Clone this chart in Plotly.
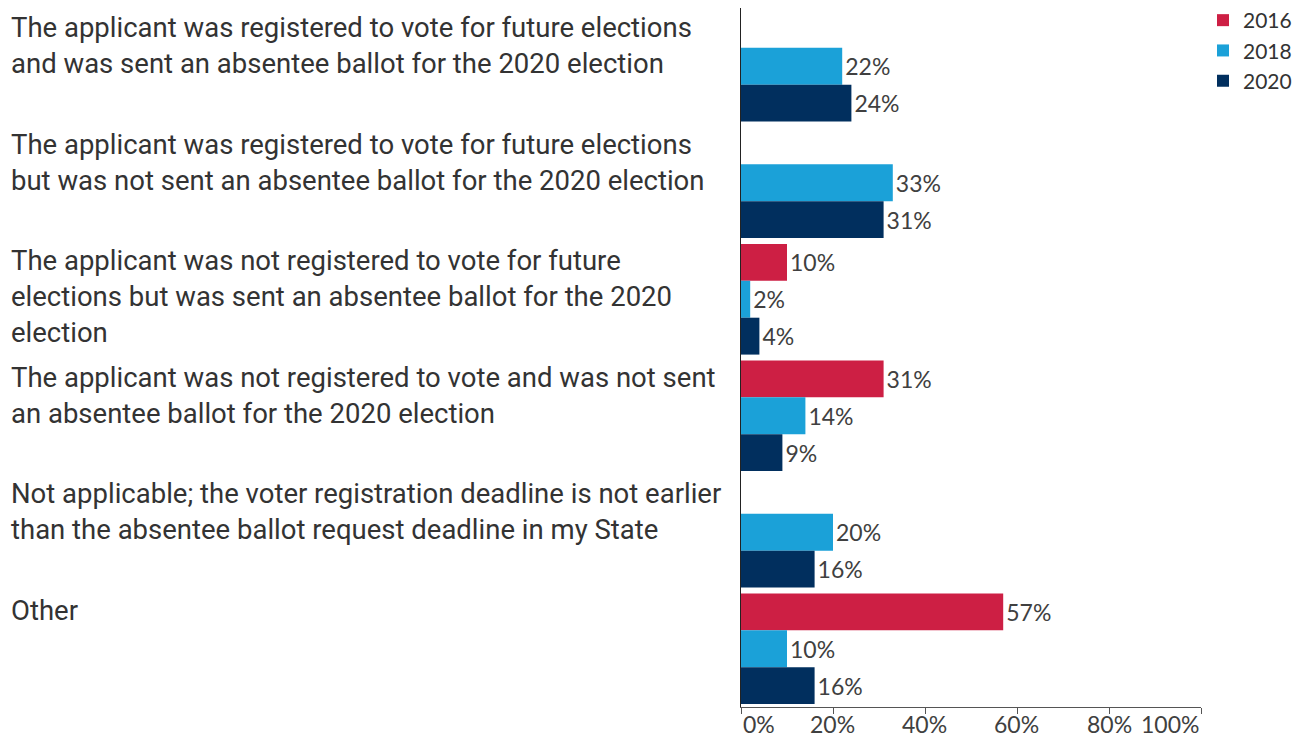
import plotly.graph_objects as go

# page is rendered with an 8px body margin; lay out in page pixels and shift
OFF = 8
PW, PH = 1315, 740
W, H = PW - OFF, PH - OFF

categories = [
    "The applicant was registered to vote for future elections<br>and was sent an absentee ballot for the 2020 election",
    "The applicant was registered to vote for future elections<br>but was not sent an absentee ballot for the 2020 election",
    "The applicant was not registered to vote for future<br>elections but was sent an absentee ballot for the 2020<br>election",
    "The applicant was not registered to vote and was not sent<br>an absentee ballot for the 2020 election",
    "Not applicable; the voter registration deadline is not earlier<br>than the absentee ballot request deadline in my State",
    "Other",
]
series_names = ["2016", "2018", "2020"]
values_2016 = [None, None, 10, 31, None, 57]
values_2018 = [22, 33, 2, 14, 20, 10]
values_2020 = [24, 31, 4, 9, 16, 16]
colors = ["#CD1F44", "#1BA1D8", "#012F5E"]
tick_vals = [0, 20, 40, 60, 80, 100]
tick_text = ["0%", "20%", "40%", "60%", "80%", "100%"]

LABEL_FONT = "Roboto"
FONT = "Lato"
TXT = "#333333"


def px(p):
    return min(max((p - OFF) / W, 0), 1)


def py(p):
    return min(max(1 - (p - OFF) / H, 0), 1)


ylabels = [f"c{i}" for i in range(len(categories))]
n = len(categories)

fig = go.Figure()
for name, vals, col in zip(series_names, [values_2016, values_2018, values_2020], colors):
    fig.add_trace(go.Bar(
        y=ylabels, x=vals, name=name, orientation="h",
        marker=dict(color=col, line=dict(width=0)),
        text=[f"{v}%" if v is not None else None for v in vals],
        textposition="outside", cliponaxis=False, constraintext="none",
        textfont=dict(family=FONT, size=23, color="#404040"),
    ))

annotations = []
for i, cat in enumerate(categories):
    annotations.append(dict(
        xref="paper", yref="y", x=px(9), y=i - 0.5, xanchor="left", yanchor="top",
        yshift=-1, text=cat, showarrow=False, align="left",
        font=dict(family=LABEL_FONT, size=27.5, color=TXT),
    ))
for v, t in zip(tick_vals, tick_text):
    anchor = "left" if v == tick_vals[0] else ("right" if v == tick_vals[-1] else "center")
    annotations.append(dict(
        xref="x", yref="paper", x=v, y=py(707), yshift=-1, xanchor=anchor, yanchor="top",
        text=t, showarrow=False, font=dict(family=FONT, size=23, color="#404040"),
    ))

fig.update_layout(
    width=W, height=H, autosize=False,
    margin=dict(l=0, r=0, t=0, b=0, autoexpand=False),
    paper_bgcolor="white", plot_bgcolor="white",
    barmode="group", bargap=0.05, bargroupgap=0,
    font=dict(family=FONT, color=TXT),
    xaxis=dict(domain=[px(741), px(1201)], range=[0, 100], tickvals=tick_vals, showticklabels=False,
               ticks="outside", ticklen=6, tickcolor="#555555", showgrid=False, zeroline=False,
               showline=True, linecolor="#555555", linewidth=1, fixedrange=True),
    yaxis=dict(domain=[py(707), py(8)], type="category", range=[n - 0.5, -0.5],
               autorange=False, categoryorder="array", categoryarray=ylabels,
               showticklabels=False, ticks="", showgrid=False, zeroline=False,
               showline=True, linecolor="#222222", linewidth=1, fixedrange=True),
    legend=dict(x=px(1203), y=1 + 8 / H, xanchor="left", yanchor="top",
                font=dict(family=FONT, size=21, color=TXT), bgcolor="rgba(0,0,0,0)",
                itemclick=False, tracegroupgap=0),
    annotations=annotations,
    showlegend=True,
)

fig.write_html("out.html")
